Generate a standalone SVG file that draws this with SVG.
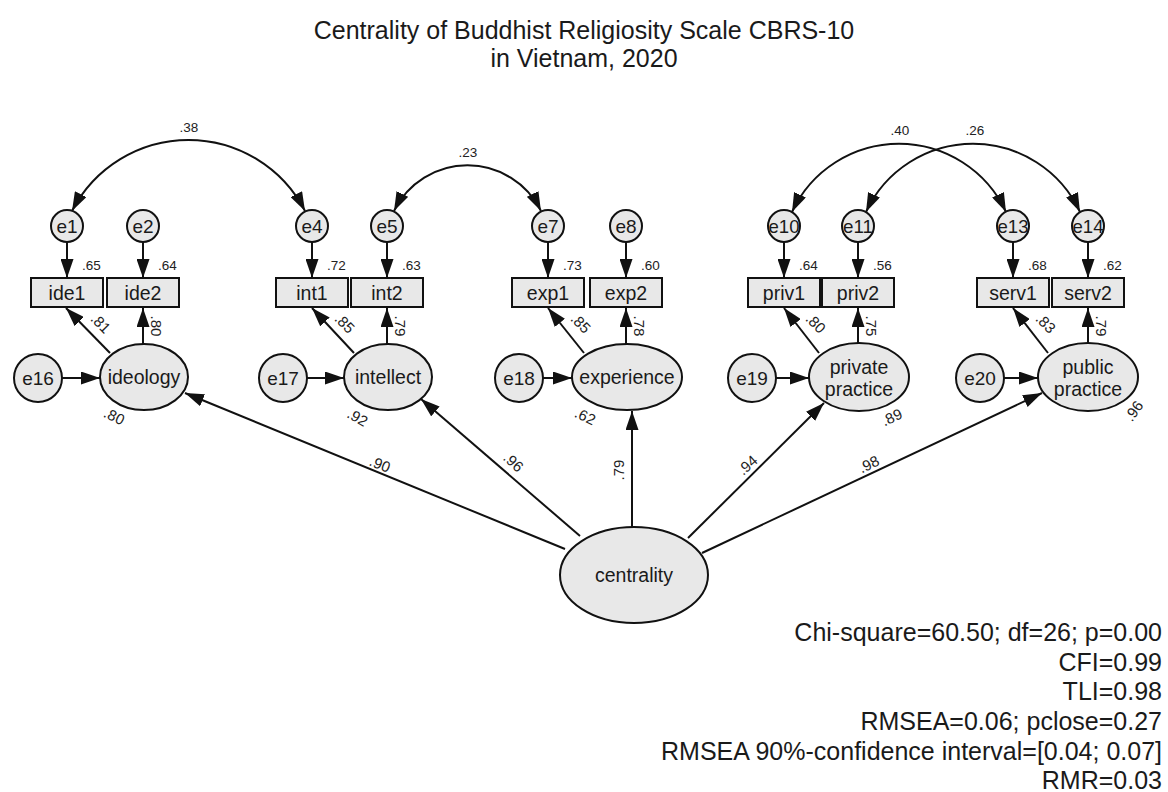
<svg xmlns="http://www.w3.org/2000/svg" width="1168" height="792" viewBox="0 0 1168 792">
<style>
text{font-family:"Liberation Sans",Arial,sans-serif;fill:#1a1a1a}
.sh{fill:#e8e8e8;stroke:#111;stroke-width:2}
.ln{stroke:#111;stroke-width:2;fill:none;marker-end:url(#ah)}
.arc{stroke:#111;stroke-width:2;fill:none;marker-end:url(#ah);marker-start:url(#ah)}
.te{font-size:19px;text-anchor:middle}
.tr{font-size:19.5px;text-anchor:middle}
.tl{font-size:19.5px;text-anchor:middle}
.n{font-size:13.5px;fill:#222}
.p{font-size:15px;fill:#222;text-anchor:middle}
.title{font-size:25px;text-anchor:middle}
.fit{font-size:25px;text-anchor:end}
</style>
<defs>
<marker id="ah" markerUnits="userSpaceOnUse" markerWidth="19" markerHeight="13" refX="19" refY="6.5" orient="auto-start-reverse">
<path d="M0,0 L19,6.5 L0,13 z" fill="#111"/>
</marker>
</defs>
<rect width="1168" height="792" fill="#fff"/>
<text class="title" x="584" y="39">Centrality of Buddhist Religiosity Scale CBRS-10</text>
<text class="title" x="584" y="67">in Vietnam, 2020</text>

<g id="connectors">
<path class="arc" d="M72 211 A131 131 0 0 1 305 211"/>
<path class="arc" d="M394 211 A82 82 0 0 1 541 211"/>
<path class="arc" d="M792 212 A118 118 0 0 1 1006 212"/>
<path class="arc" d="M866 212 A118 118 0 0 1 1080 212"/>
<line class="ln" x1="67" y1="242" x2="67" y2="278"/>
<line class="ln" x1="143" y1="242" x2="143" y2="278"/>
<line class="ln" x1="312" y1="242" x2="312" y2="278"/>
<line class="ln" x1="387" y1="242" x2="387" y2="278"/>
<line class="ln" x1="548" y1="242" x2="548" y2="278"/>
<line class="ln" x1="626" y1="242" x2="626" y2="278"/>
<line class="ln" x1="784" y1="242" x2="784" y2="278"/>
<line class="ln" x1="858" y1="242" x2="858" y2="278"/>
<line class="ln" x1="1013" y1="242" x2="1013" y2="278"/>
<line class="ln" x1="1088" y1="242" x2="1088" y2="278"/>
<line class="ln" x1="110" y1="353" x2="66" y2="308"/>
<line class="ln" x1="143" y1="344" x2="143" y2="308"/>
<line class="ln" x1="354" y1="353" x2="312" y2="308"/>
<line class="ln" x1="387" y1="344" x2="387" y2="308"/>
<line class="ln" x1="584" y1="353" x2="548" y2="308"/>
<line class="ln" x1="626" y1="344" x2="626" y2="308"/>
<line class="ln" x1="819" y1="353" x2="784" y2="308"/>
<line class="ln" x1="858" y1="343" x2="858" y2="308"/>
<line class="ln" x1="1048" y1="353" x2="1013" y2="308"/>
<line class="ln" x1="1088" y1="343" x2="1088" y2="308"/>
<line class="ln" x1="62" y1="378" x2="100" y2="378"/>
<line class="ln" x1="307" y1="378" x2="344" y2="378"/>
<line class="ln" x1="543" y1="378" x2="572" y2="378"/>
<line class="ln" x1="776" y1="378" x2="809" y2="378"/>
<line class="ln" x1="1004" y1="378" x2="1038" y2="378"/>
<line class="ln" x1="565" y1="549" x2="185" y2="393"/>
<line class="ln" x1="580" y1="536" x2="421" y2="399"/>
<line class="ln" x1="632" y1="527" x2="632" y2="411"/>
<line class="ln" x1="688" y1="538" x2="824" y2="403"/>
<line class="ln" x1="702" y1="553" x2="1042" y2="393"/>
</g>

<g id="labels">
<text class="n" x="189" y="132" text-anchor="middle">.38</text>
<text class="n" x="468" y="157" text-anchor="middle">.23</text>
<text class="n" x="900" y="135" text-anchor="middle">.40</text>
<text class="n" x="975" y="135" text-anchor="middle">.26</text>
<text class="n" x="82" y="270">.65</text>
<text class="n" x="158" y="270">.64</text>
<text class="n" x="327" y="270">.72</text>
<text class="n" x="402" y="270">.63</text>
<text class="n" x="563" y="270">.73</text>
<text class="n" x="641" y="270">.60</text>
<text class="n" x="799" y="270">.64</text>
<text class="n" x="873" y="270">.56</text>
<text class="n" x="1028" y="270">.68</text>
<text class="n" x="1103" y="270">.62</text>
<text class="p" transform="translate(97,327) rotate(45)">.81</text>
<text class="p" transform="translate(151,326) rotate(90)">.80</text>
<text class="p" transform="translate(341,327) rotate(45)">.85</text>
<text class="p" transform="translate(395,326) rotate(90)">.79</text>
<text class="p" transform="translate(577,327) rotate(45)">.85</text>
<text class="p" transform="translate(634,326) rotate(90)">.78</text>
<text class="p" transform="translate(812,327) rotate(45)">.80</text>
<text class="p" transform="translate(866,326) rotate(90)">.75</text>
<text class="p" transform="translate(1042,327) rotate(45)">.83</text>
<text class="p" transform="translate(1096,326) rotate(90)">.79</text>
<text class="p" transform="translate(112,421) rotate(25)">.80</text>
<text class="p" transform="translate(355,422) rotate(30)">.92</text>
<text class="p" transform="translate(583,421) rotate(25)">.62</text>
<text class="p" transform="translate(894,422) rotate(-25)">.89</text>
<text class="p" transform="translate(1138,414) rotate(-55)">.96</text>
<text class="p" transform="translate(378,469) rotate(22)">.90</text>
<text class="p" transform="translate(510,466) rotate(42)">.96</text>
<text class="p" transform="translate(624,470) rotate(-90)">.79</text>
<text class="p" transform="translate(751,469) rotate(-42)">.94</text>
<text class="p" transform="translate(871,469) rotate(-26)">.98</text>
</g>

<g id="e1"><circle class="sh" cx="67" cy="226" r="16"/><text class="te" x="67" y="233">e1</text></g>
<g id="e2"><circle class="sh" cx="143" cy="226" r="16"/><text class="te" x="143" y="233">e2</text></g>
<g id="e4"><circle class="sh" cx="312" cy="226" r="16"/><text class="te" x="312" y="233">e4</text></g>
<g id="e5"><circle class="sh" cx="387" cy="226" r="16"/><text class="te" x="387" y="233">e5</text></g>
<g id="e7"><circle class="sh" cx="548" cy="226" r="16"/><text class="te" x="548" y="233">e7</text></g>
<g id="e8"><circle class="sh" cx="626" cy="226" r="16"/><text class="te" x="626" y="233">e8</text></g>
<g id="e10"><circle class="sh" cx="784" cy="226" r="16"/><text class="te" x="784" y="233" textLength="31" lengthAdjust="spacingAndGlyphs">e10</text></g>
<g id="e11"><circle class="sh" cx="858" cy="226" r="16"/><text class="te" x="858" y="233" textLength="30" lengthAdjust="spacingAndGlyphs">e11</text></g>
<g id="e13"><circle class="sh" cx="1013" cy="226" r="16"/><text class="te" x="1013" y="233" textLength="31" lengthAdjust="spacingAndGlyphs">e13</text></g>
<g id="e14"><circle class="sh" cx="1088" cy="226" r="16"/><text class="te" x="1088" y="233" textLength="31" lengthAdjust="spacingAndGlyphs">e14</text></g>

<g id="ide1"><rect class="sh" x="31" y="278" width="72" height="29"/><text class="tr" x="67" y="299.5">ide1</text></g>
<g id="ide2"><rect class="sh" x="107" y="278" width="72" height="29"/><text class="tr" x="143" y="299.5">ide2</text></g>
<g id="int1"><rect class="sh" x="276" y="278" width="72" height="29"/><text class="tr" x="312" y="299.5">int1</text></g>
<g id="int2"><rect class="sh" x="351" y="278" width="72" height="29"/><text class="tr" x="387" y="299.5">int2</text></g>
<g id="exp1"><rect class="sh" x="512" y="278" width="72" height="29"/><text class="tr" x="548" y="299.5">exp1</text></g>
<g id="exp2"><rect class="sh" x="590" y="278" width="72" height="29"/><text class="tr" x="626" y="299.5">exp2</text></g>
<g id="priv1"><rect class="sh" x="748" y="278" width="72" height="29"/><text class="tr" x="784" y="299.5">priv1</text></g>
<g id="priv2"><rect class="sh" x="822" y="278" width="72" height="29"/><text class="tr" x="858" y="299.5">priv2</text></g>
<g id="serv1"><rect class="sh" x="977" y="278" width="72" height="29"/><text class="tr" x="1013" y="299.5">serv1</text></g>
<g id="serv2"><rect class="sh" x="1052" y="278" width="72" height="29"/><text class="tr" x="1088" y="299.5">serv2</text></g>

<g id="e16"><circle class="sh" cx="38" cy="378" r="24"/><text class="te" x="38" y="385">e16</text></g>
<g id="e17"><circle class="sh" cx="283" cy="378" r="24"/><text class="te" x="283" y="385">e17</text></g>
<g id="e18"><circle class="sh" cx="519" cy="378" r="24"/><text class="te" x="519" y="385">e18</text></g>
<g id="e19"><circle class="sh" cx="752" cy="378" r="24"/><text class="te" x="752" y="385">e19</text></g>
<g id="e20"><circle class="sh" cx="980" cy="378" r="24"/><text class="te" x="980" y="385">e20</text></g>

<g id="ideology"><ellipse class="sh" cx="144" cy="377" rx="44" ry="33"/><text class="tl" x="144" y="384">ideology</text></g>
<g id="intellect"><ellipse class="sh" cx="388" cy="377" rx="44" ry="33"/><text class="tl" x="388" y="384">intellect</text></g>
<g id="experience"><ellipse class="sh" cx="627" cy="377" rx="55" ry="33"/><text class="tl" x="627" y="384">experience</text></g>
<g id="private"><ellipse class="sh" cx="859" cy="377" rx="50" ry="34"/><text class="tl" x="859" y="374">private</text><text class="tl" x="859" y="396">practice</text></g>
<g id="public"><ellipse class="sh" cx="1088" cy="377" rx="50" ry="34"/><text class="tl" x="1088" y="374">public</text><text class="tl" x="1088" y="396">practice</text></g>
<g id="centrality"><ellipse class="sh" cx="634" cy="575" rx="74" ry="48"/><text class="tl" x="634" y="582">centrality</text></g>

<g id="fit">
<text class="fit" x="1162" y="641">Chi-square=60.50; df=26; p=0.00</text>
<text class="fit" x="1162" y="671">CFI=0.99</text>
<text class="fit" x="1162" y="700">TLI=0.98</text>
<text class="fit" x="1162" y="730">RMSEA=0.06; pclose=0.27</text>
<text class="fit" x="1162" y="760">RMSEA 90%-confidence interval=[0.04; 0.07]</text>
<text class="fit" x="1162" y="789">RMR=0.03</text>
</g>
</svg>
